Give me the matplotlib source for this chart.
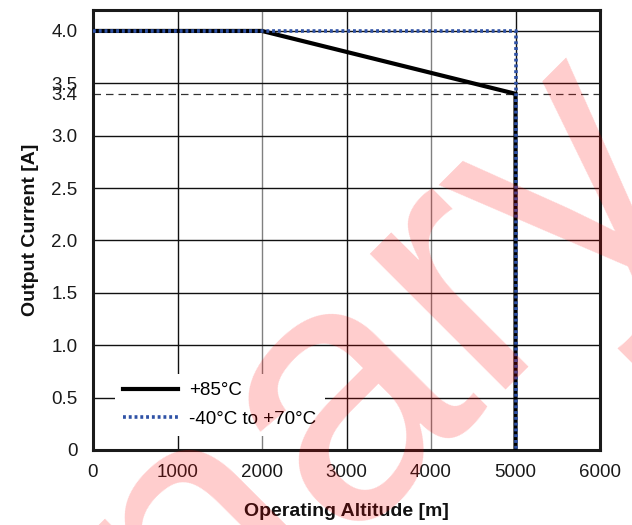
import matplotlib
matplotlib.use("Agg")
import matplotlib.pyplot as plt

# Data
alt_85 = [0, 2000, 5000, 5000]
cur_85 = [4.0, 4.0, 3.4, 0.0]
alt_70 = [0, 5000, 5000]
cur_70 = [4.0, 4.0, 0.0]
label_85 = "+85°C"
label_70 = "-40°C to +70°C"
xticks = [0, 1000, 2000, 3000, 4000, 5000, 6000]
yticks = [0, 0.5, 1.0, 1.5, 2.0, 2.5, 3.0, 3.4, 3.5, 4.0]
ytick_labels = ["0", "0.5", "1.0", "1.5", "2.0", "2.5", "3.0", "3.4", "3.5", "4.0"]
ref_level = 3.4
watermark = "Preliminary"

plt.rcParams['font.family'] = ['Liberation Sans', 'DejaVu Sans']

fig = plt.figure(figsize=(6.32, 5.25), dpi=100)
ax = fig.add_axes([93/632, 75/525, 507/632, 440/525])
ax.set_xlim(0, 6000)
ax.set_ylim(0, 4.2)

# grid
for x in xticks[1:-1]:
    col = '#808080' if x in (2000, 4000) else '#111111'
    ax.axvline(x, color=col, lw=1.0, zorder=1)
for y in [0.5, 1.0, 1.5, 2.0, 2.5, 3.0, 3.5, 4.0]:
    ax.axhline(y, color='#111111', lw=1.0, zorder=1)
ax.axhline(ref_level, color='#333333', lw=0.9, ls=(0, (6, 4)), zorder=1)

ax.plot(alt_85, cur_85, color='black', lw=3.0, solid_joinstyle='miter', zorder=3, label=label_85)
ax.plot(alt_70, cur_70, color='#2f52a6', lw=2.6, ls=(0, (0.8, 0.8)), zorder=4, label=label_70)

ax.set_xticks(xticks)
ax.set_xticklabels([str(x) for x in xticks])
ax.set_yticks(yticks)
ax.set_yticklabels(ytick_labels)
ax.tick_params(axis='both', length=0, labelsize=13.5, colors='#1a1a1a')
ax.tick_params(axis='y', pad=11)
ax.tick_params(axis='x', pad=10)
for s in ax.spines.values():
    s.set_linewidth(2.2)
    s.set_color('#1a1a1a')

ax.set_xlabel("Operating Altitude [m]", fontsize=14, fontweight='bold', labelpad=16, color='#111111')
ax.set_ylabel("Output Current [A]", fontsize=14, fontweight='bold', labelpad=9, color='#111111')

leg = ax.legend(loc='lower left', bbox_to_anchor=(0.025, 0.01), fontsize=13.5,
                frameon=True, facecolor='white', edgecolor='none', framealpha=1,
                handlelength=2.9, handletextpad=0.6, borderpad=0.45, labelspacing=0.6,
                fancybox=False)
leg.set_zorder(2)

fig.text(-593/632, -933/525, watermark, fontsize=262, color='red', alpha=0.2,
         rotation=45, rotation_mode='anchor', ha='left', va='baseline',
         family=['Liberation Sans', 'DejaVu Sans'], zorder=10)

fig.savefig("out.png", dpi=100)
